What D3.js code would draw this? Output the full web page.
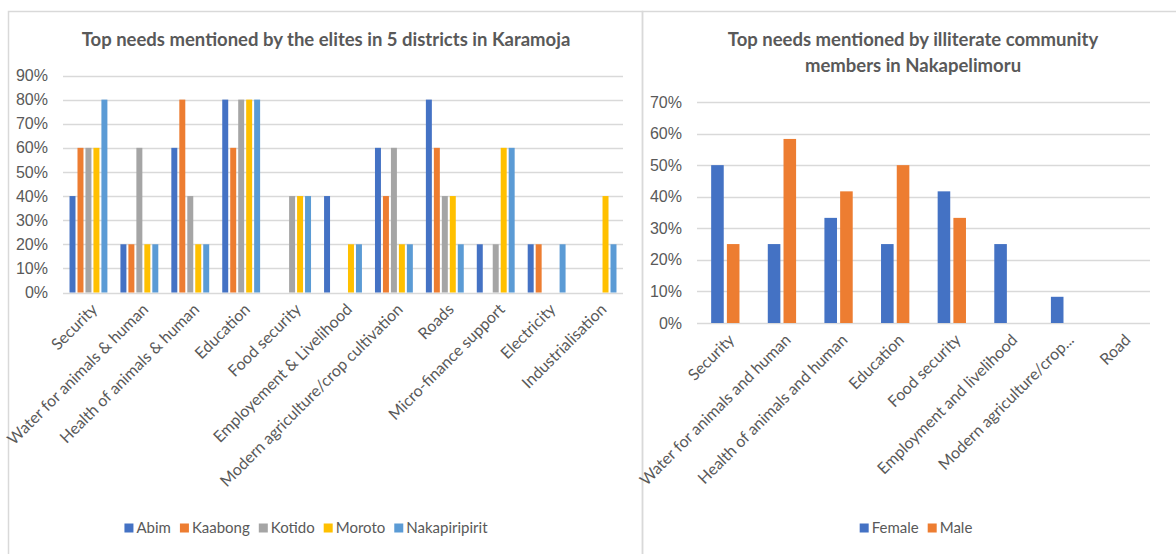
<!DOCTYPE html>
<html>
<head>
<meta charset="utf-8">
<script src="https://cdn.jsdelivr.net/npm/d3@7"></script>
<style>
  body { margin: 0; background: #fff; }
  svg { font-family: Lato, "Open Sans", sans-serif; }
  .tick text { fill: #595959; }
</style>
</head>
<body>
<svg id="chart" width="1176" height="554"></svg>
<script>
// left chart: elites in 5 districts
const eliteNeeds = ["Security", "Water for animals & human", "Health of animals & human", "Education",
  "Food security", "Employement & Livelihood", "Modern agriculture/crop cultivation", "Roads",
  "Micro-finance support", "Electricity", "Industrialisation"];
const districts = ["Abim", "Kaabong", "Kotido", "Moroto", "Nakapiripirit"];
const abim         = [40, 20, 60, 80, 0, 40, 60, 80, 20, 20, 0];
const kaabong      = [60, 20, 80, 60, 0, 0, 40, 60, 0, 20, 0];
const kotido       = [60, 60, 40, 80, 40, 0, 60, 40, 20, 0, 0];
const moroto       = [60, 20, 20, 80, 40, 20, 20, 40, 60, 0, 40];
const nakapiripirit = [80, 20, 20, 80, 40, 20, 20, 20, 60, 20, 20];
const eliteTicks = [0, 10, 20, 30, 40, 50, 60, 70, 80, 90];

// right chart: illiterate community members
const communityNeeds = ["Security", "Water for animals and human", "Health of animals and human", "Education",
  "Food security", "Employment and livelihood", "Modern agriculture/crop...", "Road"];
const genders = ["Female", "Male"];
const female = [50, 25, 33.3, 25, 41.7, 25, 8.3, 0];
const male   = [25, 58.3, 41.7, 50, 33.3, 0, 0, 0];
const communityTicks = [0, 10, 20, 30, 40, 50, 60, 70];

const colors = ["#4472C4", "#ED7D31", "#A5A5A5", "#FFC000", "#5B9BD5"];
const svg = d3.select("#chart");

// panel borders
svg.append("rect").attr("x", 8.5).attr("y", 11.5).attr("width", 634).attr("height", 560)
  .attr("fill", "none").attr("stroke", "#d9d9d9").attr("stroke-width", 1.5);
svg.append("rect").attr("x", 642.5).attr("y", 11.5).attr("width", 560).attr("height", 560)
  .attr("fill", "none").attr("stroke", "#d9d9d9").attr("stroke-width", 1.5);

function drawChart(opt) {
  const g = svg.append("g");
  const x0 = d3.scaleBand().domain(opt.categories).range([opt.left, opt.right]);
  const c = x0.bandwidth();
  const x1 = d3.scaleBand().domain(opt.series).range([c * opt.groupPad, c * (1 - opt.groupPad)])
    .paddingInner(opt.barPad);
  const y = d3.scaleLinear().domain([0, d3.max(opt.ticks)]).range([opt.bottom, opt.top]);

  // gridlines + labels
  const yAxis = d3.axisLeft(y).tickValues(opt.ticks).tickSize(0).tickPadding(15)
    .tickFormat(d => d + "%");
  g.append("g").attr("transform", `translate(${opt.left},0)`).call(yAxis)
    .call(a => a.select(".domain").remove())
    .call(a => a.selectAll("text").attr("font-size", 16).attr("font-family", null));
  g.append("g").selectAll("line").data(opt.ticks).join("line")
    .attr("x1", opt.left).attr("x2", opt.right)
    .attr("y1", d => Math.round(y(d)) + 0.5).attr("y2", d => Math.round(y(d)) + 0.5)
    .attr("stroke", "#d9d9d9").attr("stroke-width", 1.5);

  // bars
  const rows = opt.categories.map((cat, i) => ({cat, vals: opt.series.map((s, j) => ({s, j, v: opt.values[j][i]}))}));
  g.append("g").selectAll("g").data(rows).join("g")
    .attr("transform", d => `translate(${x0(d.cat)},0)`)
    .selectAll("rect").data(d => d.vals.filter(e => e.v > 0)).join("rect")
    .attr("x", d => x1(d.s)).attr("width", x1.bandwidth())
    .attr("y", d => y(d.v)).attr("height", d => y(0) - y(d.v))
    .attr("fill", d => colors[d.j]);

  // category labels
  g.append("g").selectAll("text").data(opt.categories).join("text")
    .attr("transform", d => `translate(${x0(d) + c / 2 + 6},${opt.bottom + 14}) rotate(-45)`)
    .attr("text-anchor", "end").attr("dy", "0.35em")
    .attr("font-size", 16).attr("fill", "#595959")
    .text(d => d);

  // title
  g.append("g").selectAll("text").data(opt.title).join("text")
    .attr("x", opt.titleX).attr("y", (d, i) => opt.titleY + i * 26)
    .attr("text-anchor", "middle").attr("font-size", 18.5).attr("font-weight", "bold")
    .attr("fill", "#595959").text(d => d);

  // legend, laid out from measured text widths and centred
  const lg = g.append("g");
  const items = lg.selectAll("g").data(opt.series).join("g");
  items.append("rect").attr("x", 0).attr("y", -4.5).attr("width", 9).attr("height", 9)
    .attr("fill", (d, i) => colors[i]);
  items.append("text").attr("x", 12).attr("y", 0).attr("dy", "0.35em")
    .attr("font-size", 15).attr("fill", "#595959").text(d => d);
  let pos = 0;
  const offsets = [];
  items.each(function() {
    offsets.push(pos);
    pos += 12 + d3.select(this).select("text").node().getComputedTextLength() + 9;
  });
  const total = pos - 9;
  items.attr("transform", (d, i) => `translate(${opt.legendCx - total / 2 + offsets[i]},${opt.legendY})`);
}

drawChart({
  categories: eliteNeeds, series: districts,
  values: [abim, kaabong, kotido, moroto, nakapiripirit],
  ticks: eliteTicks, left: 63, right: 623, top: 75.5, bottom: 292.5,
  groupPad: 0.128, barPad: 0.25,
  title: ["Top needs mentioned by the elites in 5 districts in Karamoja"], titleX: 326, titleY: 46,
  legendCx: 306, legendY: 528
});

drawChart({
  categories: communityNeeds, series: genders,
  values: [female, male],
  ticks: communityTicks, left: 697, right: 1150, top: 102, bottom: 323,
  groupPad: 0.25, barPad: 0.2,
  title: ["Top needs mentioned by illiterate community", "members in Nakapelimoru"], titleX: 913, titleY: 46,
  legendCx: 916, legendY: 528
});
</script>
</body>
</html>
